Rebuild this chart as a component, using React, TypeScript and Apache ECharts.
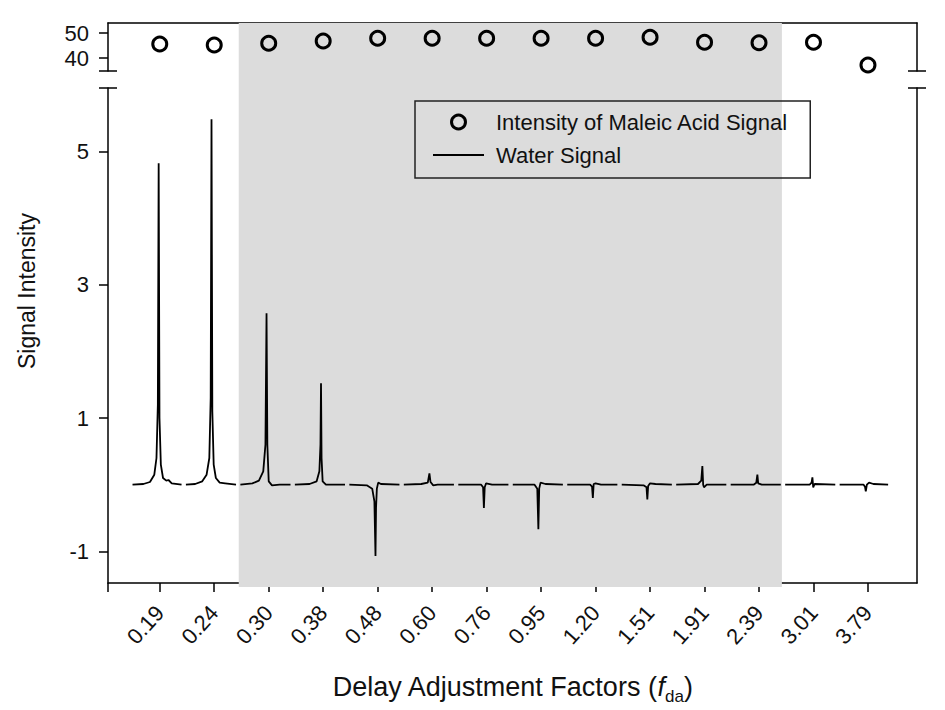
import React, { useEffect, useRef } from "react";
import * as echarts from "echarts";

// ---- data ----
const categories = ["0.19", "0.24", "0.30", "0.38", "0.48", "0.60", "0.76", "0.95", "1.20", "1.51", "1.91", "2.39", "3.01", "3.79"];
const maleicIntensity = [45.6, 45.2, 45.9, 46.8, 47.9, 47.9, 47.9, 47.9, 47.9, 48.3, 46.3, 46.1, 46.3, 37.2];
// water spectrum around each delay factor: [offset from category, intensity]
const water019: [number, number][] = [[-0.5, 0], [-0.3, 0.01], [-0.18, 0.04], [-0.1, 0.15], [-0.06, 0.4], [-0.035, 1.2], [-0.02, 4.82], [-0.005, 1.0], [0.02, 0.3], [0.06, 0.1], [0.12, 0.06], [0.16, 0.07], [0.22, 0.02], [0.4, 0]];
const water024: [number, number][] = [[-0.52, 0], [-0.35, 0.01], [-0.22, 0.05], [-0.14, 0.15], [-0.09, 0.4], [-0.065, 1.3], [-0.05, 5.48], [-0.035, 1.1], [-0.01, 0.3], [0.03, 0.1], [0.1, 0.03], [0.2, 0.02], [0.4, 0]];
const water030: [number, number][] = [[-0.52, 0], [-0.3, 0.02], [-0.18, 0.06], [-0.1, 0.2], [-0.06, 0.6], [-0.04, 2.57], [-0.025, 0.6], [0.0, 0.05], [0.06, -0.01], [0.2, 0], [0.4, 0]];
const water038: [number, number][] = [[-0.52, 0], [-0.25, 0.01], [-0.12, 0.05], [-0.07, 0.2], [-0.05, 0.6], [-0.04, 1.52], [-0.03, 0.4], [-0.01, 0.05], [0.05, 0], [0.4, 0]];
const water048: [number, number][] = [[-0.52, 0], [-0.2, -0.01], [-0.1, -0.06], [-0.06, -0.25], [-0.04, -1.07], [-0.03, -0.35], [-0.015, -0.06], [0.01, 0.03], [0.06, 0.01], [0.4, 0]];
const water060: [number, number][] = [[-0.52, 0], [-0.2, 0.01], [-0.08, 0.03], [-0.05, 0.17], [-0.03, 0.04], [0.02, -0.01], [0.1, 0], [0.4, 0]];
const water076: [number, number][] = [[-0.52, 0], [-0.1, 0], [-0.065, -0.04], [-0.05, -0.35], [-0.035, -0.04], [-0.01, 0.02], [0.1, 0], [0.4, 0]];
const water095: [number, number][] = [[-0.52, 0], [-0.12, 0], [-0.07, -0.06], [-0.05, -0.67], [-0.035, -0.06], [-0.01, 0.03], [0.08, 0.01], [0.4, 0]];
const water120: [number, number][] = [[-0.52, 0], [-0.1, 0], [-0.065, -0.03], [-0.05, -0.2], [-0.035, 0.01], [0.0, 0.02], [0.1, 0], [0.4, 0]];
const water151: [number, number][] = [[-0.52, 0], [-0.12, -0.01], [-0.065, -0.04], [-0.05, -0.22], [-0.035, -0.02], [0.0, 0.02], [0.1, 0.01], [0.4, 0]];
const water191: [number, number][] = [[-0.52, 0], [-0.12, 0.01], [-0.06, 0.06], [-0.04, 0.28], [-0.025, 0.0], [-0.01, -0.04], [0.04, 0], [0.4, 0]];
const water239: [number, number][] = [[-0.52, 0], [-0.1, 0], [-0.05, 0.03], [-0.03, 0.15], [-0.015, 0.02], [0.05, 0], [0.4, 0]];
const water301: [number, number][] = [[-0.52, 0], [-0.07, 0], [-0.035, 0.03], [-0.02, 0.11], [-0.005, -0.04], [0.02, 0.01], [0.4, 0]];
const water379: [number, number][] = [[-0.52, 0], [-0.08, 0], [-0.055, -0.03], [-0.04, -0.1], [-0.02, 0.0], [0.02, 0.03], [0.1, 0.01], [0.37, 0]];
const waterSegments = [water019, water024, water030, water038, water048, water060, water076, water095, water120, water151, water191, water239, water301, water379];
const shadedFrom = 1.45;
const shadedTo = 11.42;
const topTicks = [40, 50];
const bottomTicks = [-1, 1, 3, 5];

// ---- layout ----
const W = 945, H = 710;
const L = 108, R = 917, T1 = 23, B1 = 71, T2 = 88, B2 = 587;
const X_MIN = -0.95, X_MAX = 13.9;
const FONT = "'Liberation Sans', Arial, Helvetica, sans-serif";
const INK = "#111";
const axisLineStyle = { color: "#000", width: 1.5 };

export default function App() {
  const ref = useRef<HTMLDivElement>(null);
  useEffect(() => {
    document.body.style.margin = "0";
    if (!ref.current) return;
    const chart = echarts.init(ref.current, null, { renderer: "svg" });

    const waterData: any[] = [];
    waterSegments.forEach((seg, i) => {
      seg.forEach(([dx, y]) => waterData.push([i + dx, y]));
      waterData.push([i + 0.44, "-"]);
    });
    const catIdx = categories.map((_, i) => i);

    const breakMarks: any[] = [];
    [L, R].forEach((x) => {
      [B1, T2].forEach((y) => {
        breakMarks.push({
          type: "line",
          shape: { x1: x - 9, y1: y, x2: x + 9, y2: y },
          style: { stroke: "#000", lineWidth: 1.5 },
          z: 10,
        });
      });
    });

    const option: any = {
      animation: false,
      backgroundColor: "#fff",
      textStyle: { fontFamily: FONT, color: INK },
      grid: [
        { left: L, top: T1, width: R - L, height: B1 - T1 },
        { left: L, top: T2, width: R - L, height: B2 - T2 },
        { left: L, top: T1, width: R - L, height: B2 - T1 },
      ],
      xAxis: [
        {
          gridIndex: 0, type: "value", min: X_MIN, max: X_MAX, position: "top",
          axisLine: { show: true, onZero: false, lineStyle: axisLineStyle },
          axisTick: { show: false }, axisLabel: { show: false }, splitLine: { show: false },
        },
        {
          gridIndex: 1, type: "value", min: X_MIN, max: X_MAX, position: "bottom",
          axisLine: { show: true, onZero: false, lineStyle: axisLineStyle },
          axisTick: { show: true, length: 9, customValues: [X_MIN, ...catIdx], lineStyle: axisLineStyle },
          axisLabel: {
            customValues: catIdx,
            formatter: (v: number) => categories[Math.round(v)] ?? "",
            rotate: 48, margin: 26, fontSize: 22, color: INK, fontFamily: FONT,
          },
          splitLine: { show: false },
          name: "{a|Delay Adjustment Factors (}{b|f}{c|da}{a|)}",
          nameLocation: "middle",
          nameGap: 86,
          nameTextStyle: {
            fontSize: 27, color: INK, fontFamily: FONT,
            rich: {
              a: { fontSize: 27, color: INK, fontFamily: FONT, lineHeight: 36, verticalAlign: "middle" },
              b: { fontSize: 27, color: INK, fontFamily: FONT, fontStyle: "italic", lineHeight: 36, verticalAlign: "middle" },
              c: { fontSize: 17, color: INK, fontFamily: FONT, lineHeight: 36, verticalAlign: "bottom" },
            },
          },
        },
        { gridIndex: 2, type: "value", min: X_MIN, max: X_MAX, show: false },
      ],
      yAxis: [
        {
          gridIndex: 0, type: "value", min: 34.8, max: 54,
          axisLine: { show: true, onZero: false, lineStyle: axisLineStyle },
          axisTick: { show: true, length: 9, customValues: topTicks, lineStyle: axisLineStyle },
          axisLabel: { customValues: topTicks, margin: 19, fontSize: 22, color: INK, fontFamily: FONT },
          splitLine: { show: false },
        },
        {
          gridIndex: 0, type: "value", min: 34.8, max: 54, position: "right",
          axisLine: { show: true, onZero: false, lineStyle: axisLineStyle },
          axisTick: { show: false }, axisLabel: { show: false }, splitLine: { show: false },
        },
        {
          gridIndex: 1, type: "value", min: -1.475, max: 5.95,
          axisLine: { show: true, onZero: false, lineStyle: axisLineStyle },
          axisTick: { show: true, length: 9, customValues: bottomTicks, lineStyle: axisLineStyle },
          axisLabel: { customValues: bottomTicks, margin: 19, fontSize: 22, color: INK, fontFamily: FONT },
          splitLine: { show: false },
        },
        {
          gridIndex: 1, type: "value", min: -1.475, max: 5.95, position: "right",
          axisLine: { show: true, onZero: false, lineStyle: axisLineStyle },
          axisTick: { show: false }, axisLabel: { show: false }, splitLine: { show: false },
        },
        { gridIndex: 2, type: "value", min: 0, max: 1, show: false },
      ],
      legend: {
        data: [
          {
            name: "Intensity of Maleic Acid Signal",
            itemStyle: { color: "rgba(0,0,0,0)", borderColor: "#000", borderWidth: 3, opacity: 1 },
          },
          {
            name: "Water Signal",
            itemStyle: { color: "rgba(0,0,0,0)", borderColor: "rgba(0,0,0,0)", borderWidth: 0, opacity: 0 },
            lineStyle: { color: "#000", width: 2, opacity: 1 },
          },
        ],
        orient: "vertical",
        left: 415, top: 101,
        padding: [10, 22, 12, 17],
        itemWidth: 51, itemHeight: 14, itemGap: 11,
        borderColor: "#222", borderWidth: 1.5,
        selectedMode: false,
        inactiveColor: "#000",
        textStyle: { fontSize: 22, color: INK, fontFamily: FONT, padding: [0, 0, 0, 7] },
      },
      series: [
        {
          type: "line", xAxisIndex: 2, yAxisIndex: 4, data: [], silent: true,
          markArea: {
            silent: true,
            itemStyle: { color: "#dcdcdc" },
            data: [[{ xAxis: shadedFrom }, { xAxis: shadedTo }]],
          },
        },
        {
          name: "Intensity of Maleic Acid Signal", type: "scatter", xAxisIndex: 0, yAxisIndex: 0,
          data: maleicIntensity.map((v, i) => [i, v]),
          symbol: "circle", symbolSize: 14,
          itemStyle: { color: "rgba(0,0,0,0)", borderColor: "#000", borderWidth: 3, opacity: 1 },
          clip: false,
        },
        {
          name: "Water Signal", type: "line", xAxisIndex: 1, yAxisIndex: 2,
          data: waterData, symbol: "none", showSymbol: false, connectNulls: false,
          lineStyle: { color: "#000", width: 1.8 }, itemStyle: { color: "#000" },
        },
      ],
      graphic: [
        ...breakMarks,
        {
          type: "text", x: 27, y: 291, rotation: Math.PI / 2,
          style: { text: "Signal Intensity", fontSize: 23, fontFamily: FONT, fill: INK, align: "center", verticalAlign: "middle" },
        },
      ],
    };
    chart.setOption(option);
    return () => chart.dispose();
  }, []);
  return <div ref={ref} style={{ width: W, height: H }} />;
}
